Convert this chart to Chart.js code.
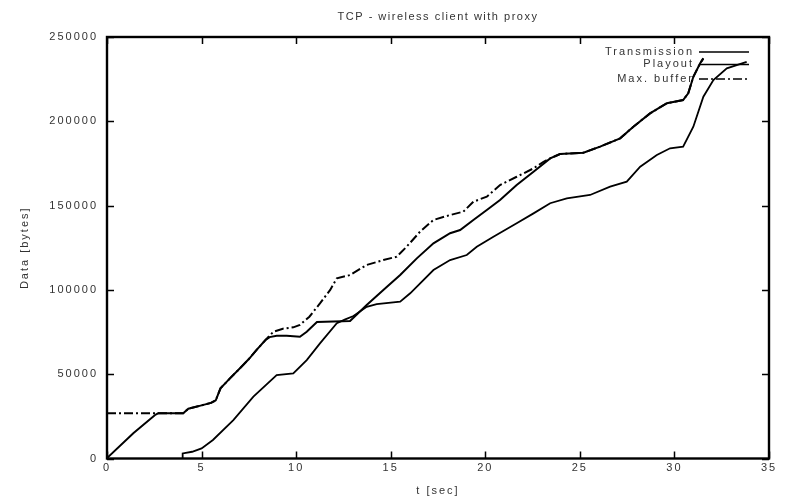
<!DOCTYPE html>
<html>
<head>
<meta charset="utf-8">
<script src="https://cdn.jsdelivr.net/npm/chart.js@4.4.1/dist/chart.umd.min.js"></script>
<style>
  html, body { margin: 0; padding: 0; background: #fff; }
</style>
</head>
<body>
<canvas id="chart1" width="791" height="504"></canvas>
<script>
const titleText = 'TCP - wireless client with proxy';
const xLabel = 't [sec]';
const yLabel = 'Data [bytes]';
const seriesNames = ['Transmission', 'Playout', 'Max. buffer'];

// x ticks every 5 sec, y ticks every 50000 bytes
const xMax = 35;
const yMax = 250000;

// Transmission
const transT = [0, 0.07, 1.39, 2.54, 2.7, 4.03, 4.3, 5.0, 5.5, 5.75, 6.0, 6.5, 7.03, 7.5, 7.91, 8.4, 8.6, 8.97, 9.5, 10.2, 10.56, 11.1, 12.85,
  13.73, 14.61, 15.5, 16.38, 17.26, 18.14, 18.67, 19.37, 20.08, 20.78, 21.66, 22.55, 23.43, 23.95, 25.19, 26.07, 27.13, 27.83, 28.71, 29.6, 30.46, 30.73, 31.0, 31.36, 31.53];
const transY = [0, 1000, 15000, 25800, 26800, 26800, 29500, 31500, 33000, 34500, 41600, 47500, 53500, 59000, 64400, 70500, 72000, 72800, 72800, 72200, 75200, 81000, 81500,
  91000, 99900, 108800, 118700, 127600, 133600, 135500, 141500, 147400, 153300, 162200, 170100, 178000, 180600, 181400, 185000, 189900, 196800, 204700, 210700, 212600, 216600, 226400, 234400, 237300];

// Playout
const playT = [4.0, 4.0, 4.5, 5.0, 5.6, 6.68, 7.74, 8.97, 9.85, 10.56, 11.26, 12.15, 12.6, 13.03, 13.73, 14.26, 15.5, 16.03, 17.26, 18.14, 19.02, 19.55, 20.43, 21.66,
  22.55, 23.43, 24.31, 25.54, 26.6, 27.48, 28.19, 29.07, 29.77, 30.46, 31.0, 31.53, 32.06, 32.77, 33.82];
const playY = [0, 3000, 4000, 6000, 11000, 22800, 36700, 49500, 50500, 58400, 68300, 80200, 82500, 84500, 90000, 91600, 93000, 98000, 111800, 117700, 120700, 125600, 131500, 139500,
  145400, 151400, 154300, 156300, 161200, 164200, 173100, 180000, 184000, 185000, 196800, 214600, 224500, 231400, 235300];

// Max. buffer
const bufT = [0, 4.03, 4.3, 5.0, 5.5, 5.75, 6.0, 6.5, 7.03, 7.5, 7.91, 8.4, 8.8, 9.3, 9.85, 10.2, 10.7, 11.26, 11.8, 12.15, 12.85, 13.73, 14.61, 15.32, 15.84, 16.55, 17.26,
  18.14, 18.84, 19.37, 20.08, 20.78, 21.66, 22.55, 23.08, 23.43, 23.95, 25.19, 26.07, 27.13, 27.83, 28.71, 29.6, 30.46, 30.73, 31.0, 31.36, 31.53];
const bufY = [26800, 26800, 29500, 31500, 33000, 34500, 41600, 47500, 53500, 59000, 64400, 70500, 75200, 77000, 77800, 79200, 84100, 92000, 100000, 106900, 108800, 114800, 117700, 119700, 125600, 134500, 141500,
  144400, 146400, 152300, 155300, 162200, 167100, 172100, 176000, 178000, 180600, 181400, 185000, 189900, 196800, 204700, 210700, 212600, 216600, 226400, 234400, 237300];

function toPoints(xs, ys){
  return xs.map((x, i) => ({x: x, y: ys[i]}))
}

const seriesStyle = [
  {width: 2, dash: []},
  {width: 1.8, dash: []},
  {width: 2, dash: [9, 3, 2, 3]}
]

const fontFamily = '"Liberation Sans", Arial, sans-serif';
const textColor = '#333';

// gnuplot style frame + inward ticks on all 4 sides
const framePlugin = {
  id: 'frame',
  beforeDraw(chart){
    chart.ctx.letterSpacing = '2px';
  },
  afterDraw(chart){
    const ctx = chart.ctx;
    const a = chart.chartArea;
    const xs = chart.scales.x, ys = chart.scales.y;
    const tl = 7;
    ctx.save();
    ctx.strokeStyle = '#000';
    ctx.lineWidth = 1.5;
    ctx.beginPath();
    xs.ticks.forEach(t => {
      const px = Math.round(xs.getPixelForValue(t.value)) + 0.5;
      ctx.moveTo(px, a.bottom); ctx.lineTo(px, a.bottom - tl);
      ctx.moveTo(px, a.top); ctx.lineTo(px, a.top + tl);
    });
    ys.ticks.forEach(t => {
      const py = Math.round(ys.getPixelForValue(t.value)) + 0.5;
      ctx.moveTo(a.left, py); ctx.lineTo(a.left + tl, py);
      ctx.moveTo(a.right, py); ctx.lineTo(a.right - tl, py);
    });
    ctx.stroke();
    ctx.lineWidth = 2.4;
    ctx.strokeRect(a.left, a.top, a.right - a.left, a.bottom - a.top);

    // title
    ctx.font = '11px ' + fontFamily;
    ctx.fillStyle = textColor;
    ctx.letterSpacing = '1.5px';
    ctx.textAlign = 'center';
    ctx.textBaseline = 'middle';
    ctx.fillText(titleText, (a.left + a.right) / 2, 17);

    // key, top right
    ctx.letterSpacing = '2px';
    ctx.textAlign = 'right';
    const rows = [51.5, 64, 78.5];
    seriesNames.forEach((name, i) => {
      ctx.fillStyle = textColor;
      ctx.fillText(name, 694, rows[i]);
      ctx.beginPath();
      ctx.setLineDash(seriesStyle[i].dash);
      ctx.lineWidth = 1.6;
      ctx.moveTo(699, rows[i] + 0.5);
      ctx.lineTo(749, rows[i] + 0.5);
      ctx.stroke();
    });
    ctx.restore();
  }
}

const ctx = document.getElementById('chart1').getContext('2d');
const chart1 = new Chart(ctx, {
  type: 'line',
  data: {
    datasets: [
      {
        label: seriesNames[2],
        data: toPoints(bufT, bufY),
        borderColor: '#000',
        borderWidth: seriesStyle[2].width,
        borderDash: seriesStyle[2].dash,
        pointRadius: 0,
        order: 3
      },
      {
        label: seriesNames[0],
        data: toPoints(transT, transY),
        borderColor: '#000',
        borderWidth: seriesStyle[0].width,
        pointRadius: 0,
        order: 2
      },
      {
        label: seriesNames[1],
        data: toPoints(playT, playY),
        borderColor: '#000',
        borderWidth: seriesStyle[1].width,
        pointRadius: 0,
        order: 1
      }
    ]
  },
  options: {
    responsive: false,
    animation: false,
    events: [],
    layout: { padding: { left: 0, top: 37, right: 22, bottom: 0 } },
    plugins: {
      legend: { display: false },
      tooltip: { enabled: false },
      title: { display: false }
    },
    scales: {
      x: {
        type: 'linear',
        min: 0,
        max: xMax,
        afterFit: s => { s.height = 45.5 },
        grid: { display: false, drawTicks: false },
        border: { display: false },
        ticks: { stepSize: 5, padding: 3, color: textColor, font: { family: fontFamily, size: 11 }, maxRotation: 0 },
        title: { display: true, text: xLabel, color: textColor, font: { family: fontFamily, size: 11 }, padding: { top: 0, bottom: 6 } }
      },
      y: {
        type: 'linear',
        min: 0,
        max: yMax,
        afterFit: s => { s.width = 107 },
        grid: { display: false, drawTicks: false },
        border: { display: false },
        ticks: { stepSize: 50000, padding: 9, color: textColor, font: { family: fontFamily, size: 11 }, callback: v => String(v) },
        title: { display: true, text: yLabel, color: textColor, font: { family: fontFamily, size: 11 }, padding: { top: 18, bottom: 0 } }
      }
    }
  },
  plugins: [framePlugin]
});
</script>
</body>
</html>
